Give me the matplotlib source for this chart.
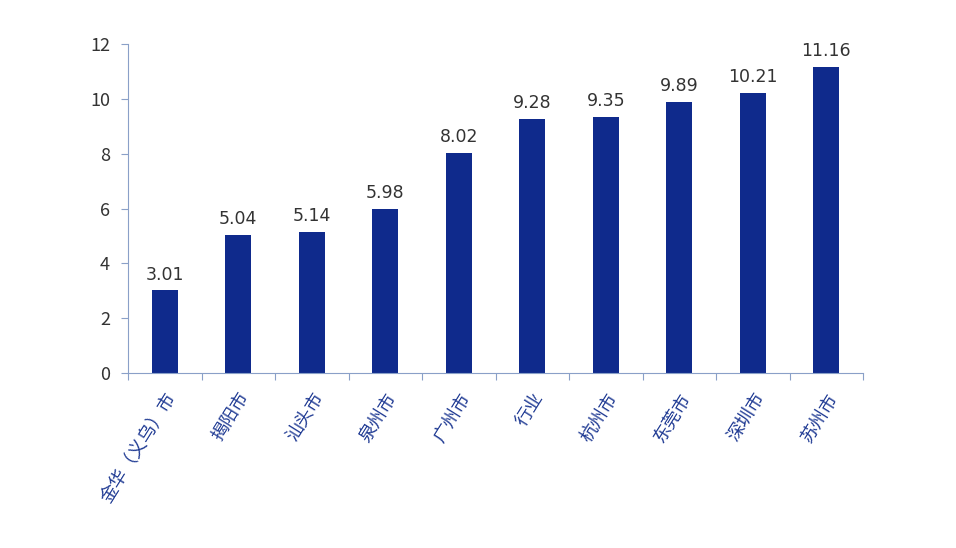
import matplotlib
matplotlib.use("Agg")
import matplotlib.pyplot as plt

plt.rcParams['font.family'] = ['Noto Sans CJK SC', 'DejaVu Sans']
categories = ["金华（义乌）市", "揭阳市", "汕头市", "泉州市", "广州市", "行业", "杭州市", "东莞市", "深圳市", "苏州市"]
values = [3.01, 5.04, 5.14, 5.98, 8.02, 9.28, 9.35, 9.89, 10.21, 11.16]

blue = "#0f2a8c"
txt = "#1f3a93"
fig = plt.figure(figsize=(9.56, 5.48), dpi=100)
ax = fig.add_axes([128/956, 1-373/548, 735/956, 329/548])
x = list(range(len(values)))
bars = ax.bar(x, values, width=0.35, color=blue)
for xi, v in zip(x, values):
    ax.text(xi, v + 0.25, f"{v:.2f}", ha='center', va='bottom', fontsize=12.5, color="#333333", family=['DejaVu Sans'])
ax.set_xlim(-0.5, len(values) - 0.5)
ax.set_ylim(0, 12)
ax.set_yticks(range(0, 13, 2))
ax.set_xticks([i - 0.5 for i in range(len(values) + 1)], minor=False)
ax.set_xticklabels([])
ax.set_xticks(x, minor=True)
ax.set_xticklabels(categories, minor=True, rotation=58, ha='right', rotation_mode='anchor', fontsize=13, color=txt)
ax.tick_params(axis='x', which='minor', length=0, pad=12)
ax.tick_params(axis='x', which='major', length=5, color="#8aa0c8", direction='out')
ax.tick_params(axis='y', labelsize=13, labelcolor="#333333", color="#8aa0c8", length=5, pad=8)
for s in ['top', 'right']:
    ax.spines[s].set_visible(False)
for s in ['left', 'bottom']:
    ax.spines[s].set_color("#8aa0c8")
fig.savefig("out.png", dpi=100)
